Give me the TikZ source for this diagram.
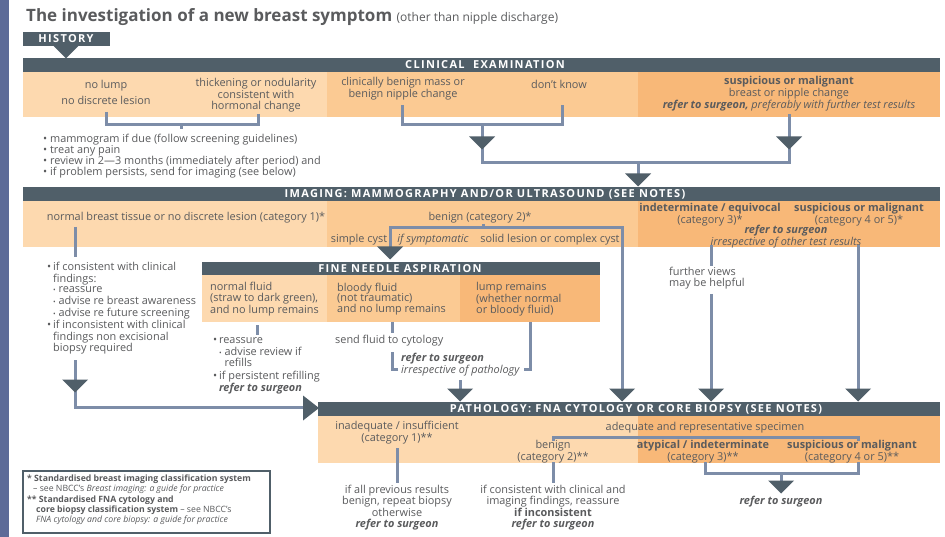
\documentclass[tikz,border=0pt]{standalone}
\usepackage{fontspec}
\setmainfont{Open Sans}
\definecolor{barc}{HTML}{505F69}
\definecolor{conncol}{HTML}{7D8DA8}
\definecolor{stripc}{HTML}{5D6B98}
\definecolor{txtc}{HTML}{5A5B5D}
\definecolor{orA}{HTML}{FDD9AF}
\definecolor{orB}{HTML}{FBCA93}
\definecolor{orC}{HTML}{F8B878}
\newcommand\bodyf{\fontsize{10.9}{10.8}\selectfont}
\newcommand\smallf{\fontsize{8.7}{10}\selectfont}
\newcommand\barf{\fontsize{11}{12}\selectfont\bfseries\addfontfeatures{LetterSpace=12}}
\tikzset{
  bartxt/.style={text=white, font=\barf, inner sep=0},
  tx/.style={inner sep=0, align=center, font=\bodyf, text=txtc},
  tl/.style={inner sep=0, align=left, font=\bodyf, text=txtc, anchor=west},
  cn/.style={draw=conncol, line width=3pt},
  tri/.pic={\fill[barc] (-13,-6.5) -- (13,-6.5) -- (0,6.5) -- cycle;},
  trir/.pic={\fill[barc] (-8,-12.5) -- (-8,12.5) -- (8,0) -- cycle;},
}
\begin{document}
\begin{tikzpicture}[x=1pt,y=-1pt]
\useasboundingbox (0,0) rectangle (945,537);
\fill[white] (0,0) rectangle (945,537);
\fill[stripc] (0,0) rectangle (9,537);

% title
\node[anchor=west, inner sep=0, text=txtc] (title) at (26,17)
  {\fontsize{17}{19}\selectfont\bfseries The investigation of a new breast symptom\ \fontsize{12}{13}\mdseries (other than nipple discharge)};

% history
\fill[barc] (23,32) rectangle (110,46);
\node[bartxt] (hist) at (66,39) {HISTORY};
\pic at (66,52) {tri};

% clinical examination
\fill[barc] (23,58) rectangle (940,72);
\node[bartxt] (ceh) at (485,65) {CLINICAL\ \ EXAMINATION};
\fill[orA] (23,72) rectangle (327,117);
\fill[orB] (327,72) rectangle (638,117);
\fill[orC] (638,72) rectangle (940,117);
\node[tx] (nolump) at (106,92) {no lump\\[4pt]no discrete lesion};
\node[tx] (thick) at (256,95) {thickening or nodularity\\consistent with\\hormonal change};
\node[tx] (cbm) at (403,89) {clinically benign mass or\\benign nipple change};
\node[tx] (dk) at (559,84) {don't know};
\node[tx] (susp) at (789,94) {\textbf{suspicious or malignant}\\breast or nipple change\\\textbf{\itshape refer to surgeon,} \itshape preferably with further test results};

\coordinate (cl1) at (106,112);
\coordinate (cl2) at (258,114);
\draw[cn] (cl1) |- (181,125) -| (cl2);
\draw[cn] (181,125) -- (181,129);
\draw[cn] (402,105) |- (562,125) -- (562,105);
\draw[cn] (482,125) -- (482,163) -| (789,114);
\pic at (482,143) {tri};
\pic at (789,143) {tri};
\draw[cn] (638,163) -- (638,178);
\pic at (638,180) {tri};

\node[tl] (b1) at (43,140) {• mammogram if due (follow screening guidelines)};
\node[tl] (b2) at (43,151) {• treat any pain};
\node[tl] (b3) at (43,162) {• review in 2—3 months (immediately after period) and};
\node[tl] (b4) at (43,173) {• if problem persists, send for imaging (see below)};

% imaging
\fill[barc] (23,187) rectangle (940,201);
\node[bartxt] (imh) at (485,194) {IMAGING: MAMMOGRAPHY AND/OR ULTRASOUND (SEE NOTES)};
\fill[orA] (23,201) rectangle (327,247);
\fill[orB] (327,201) rectangle (638,247);
\fill[orC] (638,201) rectangle (940,247);
\node[tx] (nbt) at (186,218) {normal breast tissue or no discrete lesion (category 1)*};
\node[tx] (ben) at (480,218) {benign (category 2)*};
\node[tx] (sc) at (359,240) {simple cyst};
\node[tx] (ifs) at (433,240) {\itshape if symptomatic};
\node[tx] (sol) at (550,240) {solid lesion or complex cyst};
\node[tx, font=\fontsize{10.9}{10.2}\selectfont] (ind) at (710,215) {\textbf{indeterminate / equivocal}\\(category 3)*};
\node[tx, font=\fontsize{10.9}{10.2}\selectfont] (sm) at (859,215) {\textbf{suspicious or malignant}\\(category 4 or 5)*};
\node[tx, font=\fontsize{10.9}{10.2}\selectfont] (rts) at (786,237) {\textbf{\itshape refer to surgeon}\\\itshape irrespective of other test results};

\draw[cn] (483,224) -- (483,228);
\draw[cn] (390,250) |- (622,228) -- (622,392);
\pic at (390,253) {tri};
\pic at (622,395) {tri};

\draw[cn] (711,245) -- (711,266);
\node[tl] (fv) at (669,278) {further views\\may be helpful};
\draw[cn] (711,294) -- (711,392);
\pic at (711,395) {tri};
\draw[cn] (858,245) -- (858,392);
\pic at (858,395) {tri};

% left column
\draw[cn] (75,227) -- (75,257);
\node[tl, anchor=north west] (lb) at (47,262) {%
\begin{tabular}{@{}l@{\,}l@{}}
\textbullet & if consistent with clinical\\
 & findings:\\
 & {\fontsize{7}{8}\selectfont\textbullet} reassure\\
 & {\fontsize{7}{8}\selectfont\textbullet} advise re breast awareness\\
 & {\fontsize{7}{8}\selectfont\textbullet} advise re future screening\\[1pt]
\textbullet & if inconsistent with clinical\\
 & findings non excisional\\
 & biopsy required
\end{tabular}};
\draw[cn] (75,360) -- (75,407) -- (305,407);
\pic at (75,386) {tri};
\pic at (311,408) {trir};

% FNA
\fill[barc] (202,262) rectangle (600,275);
\node[bartxt] (fnah) at (400,268.5) {FINE NEEDLE ASPIRATION};
\fill[orA] (202,275) rectangle (327,322);
\fill[orB] (327,275) rectangle (460,322);
\fill[orC] (460,275) rectangle (600,322);
\node[tl] (nf) at (210,299) {normal fluid\\(straw to dark green),\\and no lump remains};
\node[tl] (bf) at (337,299) {bloody fluid\\(not traumatic)\\and no lump remains};
\node[tl] (lr) at (476,299) {lump remains\\(whether normal\\or bloody fluid)};

\draw[cn] (257,325) -- (257,335);
\node[tl, anchor=north west] (nfb) at (213,336) {%
\begin{tabular}{@{}l@{\,}l@{}}
\textbullet & reassure\\
 & {\fontsize{7}{8}\selectfont\textbullet} advise review if\\
 & \phantom{{\fontsize{7}{8}\selectfont\textbullet}} refills\\[1pt]
\textbullet & if persistent refilling\\
 & \textbf{\itshape refer to surgeon}
\end{tabular}};

\draw[cn] (392,322) -- (392,333);
\node[tl] (sfc) at (335,341) {send fluid to cytology};
\draw[cn] (398,369) -| (392,352);
\draw[cn] (524,369) -| (530,322);
\node[tl] (rsi) at (401,365) {\textbf{\itshape refer to surgeon}\\\itshape irrespective of pathology};
\draw[cn] (460,380) -- (460,392);
\pic at (460,395) {tri};

% pathology
\fill[barc] (318,402) rectangle (940,416);
\node[bartxt] (path) at (636,409) {PATHOLOGY: FNA CYTOLOGY OR CORE BIOPSY (SEE NOTES)};
\fill[orA] (318,416) rectangle (638,463);
\fill[orC] (638,416) rectangle (940,463);
\node[tx] (inad) at (397,433) {inadequate / insufficient\\(category 1)**};
\node[tx] (adeq) at (705,428) {adequate and representative specimen};
\draw[cn] (553,441) |- (858,437) -- (858,441);
\node[tx] (pben) at (553,451.5) {benign\\(category 2)**};
\node[tx] (atyp) at (703,451.5) {\textbf{atypical / indeterminate}\\(category 3)**};
\node[tx] (psm) at (852,451.5) {\textbf{suspicious or malignant}\\(category 4 or 5)**};

\draw[cn] (397,448) -- (397,483);
\node[tx] (inadt) at (397,507.5) {if all previous results\\benign, repeat biopsy\\otherwise\\\textbf{\itshape refer to surgeon}};
\draw[cn] (553,462) -- (553,483);
\node[tx] (bent) at (553,507.5) {if consistent with clinical and\\imaging findings, reassure\\\textbf{if inconsistent}\\\textbf{\itshape refer to surgeon}};
\draw[cn] (705,462) |- (858,473) -- (858,462);
\draw[cn] (781,473) -- (781,484);
\pic at (781,487) {tri};
\node[tx] (rs3) at (781,502) {\textbf{\itshape refer to surgeon}};

% footnote box
\draw[barc, line width=1.5pt] (23,471) rectangle (270,533);
\node[anchor=north west, inner sep=0, align=left, font=\smallf, text=txtc] (fn) at (27,475) {%
\textbf{* Standardised breast imaging classification system}\\
\hspace*{6pt}– see NBCC's \textit{Breast imaging: a guide for practice}\\[1pt]
\textbf{** Standardised FNA cytology and}\\
\hspace*{9pt}\textbf{core biopsy classification system} – see NBCC's\\
\hspace*{9pt}\textit{FNA cytology and core biopsy: a guide for practice}};
\end{tikzpicture}
\end{document}
